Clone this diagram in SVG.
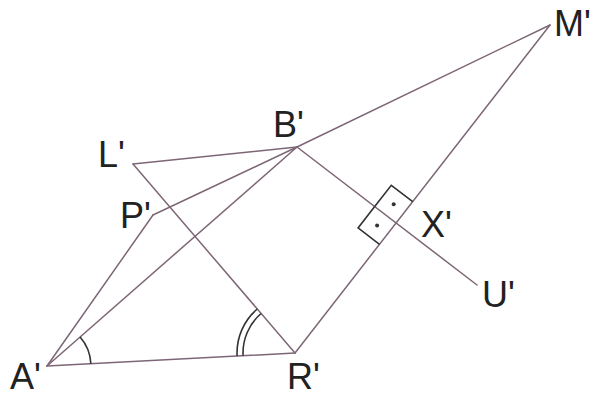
<svg xmlns="http://www.w3.org/2000/svg" width="594" height="397" viewBox="0 0 594 397">
<style>
.ln{stroke:#7d6676;stroke-width:1.5;fill:none;stroke-linecap:round}
.mk{stroke:#333;stroke-width:1.6;fill:none}
.lb{font-family:"Liberation Sans",Arial,sans-serif;font-size:36px;fill:#222}
</style>
<rect width="594" height="397" fill="#fff"/>
<g id="connectors">
<line class="ln" x1="47" y1="366" x2="295" y2="353"/>
<line class="ln" x1="47" y1="366" x2="297" y2="147"/>
<line class="ln" x1="47" y1="366" x2="153" y2="215"/>
<line class="ln" x1="153" y1="215" x2="297" y2="147"/>
<line class="ln" x1="133" y1="164" x2="297" y2="147"/>
<line class="ln" x1="133" y1="164" x2="295" y2="353"/>
<line class="ln" x1="297" y1="147" x2="550" y2="25"/>
<line class="ln" x1="295" y1="353" x2="550" y2="25"/>
<line class="ln" x1="297" y1="147" x2="477" y2="285"/>
</g>
<g id="marks">
<path class="mk" d="M80.1 337 A44 44 0 0 1 90.9 363.7"/>
<path class="mk" d="M243.1 355.7 A52 52 0 0 1 261.1 313.5"/>
<path class="mk" d="M237.1 356 A58 58 0 0 1 257.2 309"/>
<polyline class="mk" points="374.7,206.6 391.3,185.3 412.7,201.7"/>
<polyline class="mk" points="374.7,206.6 358.1,227.9 379.5,244.3"/>
<circle cx="393.7" cy="204.2" r="2" fill="#333"/>
<circle cx="377.1" cy="225.5" r="2" fill="#333"/>
</g>
<g id="A"><text class="lb" x="10" y="389">A'</text></g>
<g id="R"><text class="lb" x="287" y="389">R'</text></g>
<g id="B"><text class="lb" x="273" y="137">B'</text></g>
<g id="L"><text class="lb" x="98" y="167">L'</text></g>
<g id="P"><text class="lb" x="120" y="228">P'</text></g>
<g id="M"><text class="lb" x="554" y="36">M'</text></g>
<g id="X"><text class="lb" x="421" y="237">X'</text></g>
<g id="U"><text class="lb" x="482" y="307">U'</text></g>
</svg>
